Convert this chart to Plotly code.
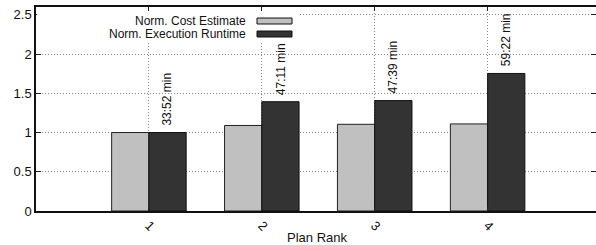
import plotly.graph_objects as go

ranks = [1, 2, 3, 4]
rank_labels = ["1", "2", "3", "4"]
cost_estimate = [1.0, 1.09, 1.105, 1.11]
exec_runtime = [1.0, 1.393, 1.407, 1.753]
runtime_labels = ["33:52 min", "47:11 min", "47:39 min", "59:22 min"]
y_ticks = [0, 0.5, 1, 1.5, 2, 2.5]
y_tick_labels = ["0", "0.5", "1", "1.5", "2", "2.5"]

FONT = "Liberation Sans, Arial, sans-serif"
BW = 0.33

fig = go.Figure()
fig.add_trace(go.Bar(
    x=ranks, y=cost_estimate, width=BW, offset=-BW,
    marker=dict(color="#c0c0c0", line=dict(color="#222222", width=1)),
    name="Norm. Cost Estimate", showlegend=False,
))
fig.add_trace(go.Bar(
    x=ranks, y=exec_runtime, width=BW, offset=0,
    marker=dict(color="#333333", line=dict(color="#111111", width=1)),
    name="Norm. Execution Runtime", showlegend=False,
))

for r, v, lab in zip(ranks, exec_runtime, runtime_labels):
    fig.add_annotation(
        x=r + BW / 2, y=v, text=lab, textangle=-90, showarrow=False,
        xanchor="center", yanchor="bottom", yshift=5,
        font=dict(family=FONT, size=12, color="#111111"),
    )

# custom gnuplot-style key (opaque box, right-aligned text, sample box on right)
W, H = 560.0, 204.0
def px(x):
    return (x - 36) / W
def py(y):
    return (211 - y) / H

fig.add_shape(type="rect", xref="paper", yref="paper",
              x0=px(37), x1=px(298), y0=py(42), y1=py(12),
              fillcolor="white", line=dict(width=0), layer="above")
key_rows = [("Norm. Cost Estimate", "#c0c0c0", 21),
            ("Norm. Execution Runtime", "#333333", 34)]
for text, col, yc in key_rows:
    fig.add_annotation(xref="paper", yref="paper", x=px(247), y=py(yc),
                       text=text, showarrow=False, xanchor="right", yanchor="middle",
                       borderpad=0,
                       font=dict(family=FONT, size=12, color="#111111"))
    fig.add_shape(type="rect", xref="paper", yref="paper",
                  x0=px(257), x1=px(292), y0=py(yc + 3), y1=py(yc - 3),
                  fillcolor=col, line=dict(color="#111111", width=1), layer="above")

fig.add_annotation(xref="paper", yref="paper", x=px(317), y=py(237),
                   text="Plan Rank", showarrow=False, xanchor="center", yanchor="middle",
                   font=dict(family=FONT, size=13, color="#111111"))

fig.update_layout(
    width=596, height=245,
    margin=dict(l=36, r=0, t=7, b=34),
    plot_bgcolor="white", paper_bgcolor="white",
    font=dict(family=FONT, size=13, color="#111111"),
    barmode="overlay",
)
fig.update_xaxes(
    range=[0, 4.96], tickmode="array", tickvals=ranks, ticktext=rank_labels,
    tickangle=45, ticks="inside", ticklen=4, tickcolor="#222222",
    showgrid=True, gridcolor="#888888", griddash="1px,2px", gridwidth=1,
    showline=True, linecolor="#111111", linewidth=1.5, mirror="allticks",
    zeroline=False, tickfont=dict(size=13), automargin=False,
)
fig.update_yaxes(
    range=[0, 2.6], tickmode="array", tickvals=y_ticks, ticktext=y_tick_labels,
    ticks="inside", ticklen=5, tickcolor="#222222",
    showgrid=True, gridcolor="#888888", griddash="1px,2px", gridwidth=1,
    showline=True, linecolor="#111111", linewidth=1.5, mirror="allticks",
    zeroline=False, tickfont=dict(size=13), automargin=False,
)

fig.write_html(
    "out.html",
    config={"displayModeBar": False},
    post_script="document.body.style.margin='0';document.body.style.padding='0';",
)
